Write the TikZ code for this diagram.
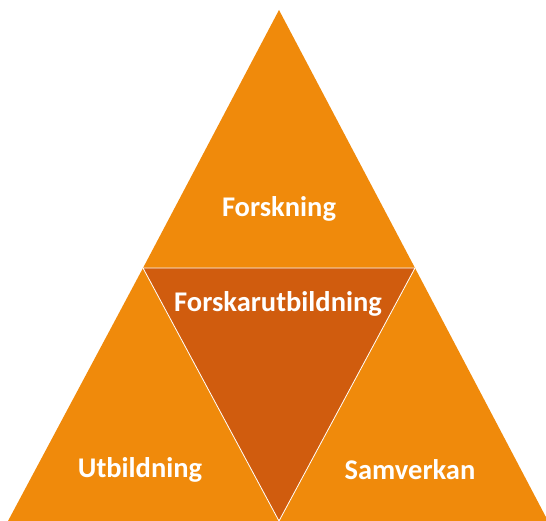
\documentclass[tikz,border=0pt]{standalone}
\usepackage{fontspec}
\setmainfont{Carlito}
\definecolor{tri}{RGB}{240,138,11}
\definecolor{mid}{RGB}{208,92,14}
\begin{document}
\begin{tikzpicture}[x=1pt,y=-1pt,
  lbl/.style={text=white,font=\bfseries\fontsize{28.5}{32}\selectfont,inner sep=0pt}]
\useasboundingbox (0,0) rectangle (546,521);
\coordinate (A) at (279,10);
\coordinate (L) at (143,268);
\coordinate (R) at (415,268);
\coordinate (BL) at (8,521);
\coordinate (BM) at (279,521);
\coordinate (BR) at (548,521);
\fill[tri] (A) -- (L) -- (R) -- cycle;
\fill[tri] (L) -- (BL) -- (BM) -- cycle;
\fill[tri] (R) -- (BM) -- (BR) -- cycle;
\fill[mid] (L) -- (R) -- (BM) -- cycle;
\draw[white,line width=0.8pt] (L) -- (R) -- (BM) -- cycle;
\node[lbl] (f) at (279,208.5) {Forskning};
\node[lbl] (fu) at (278,303.5) {Forskarutbildning};
\node[lbl] (u) at (140,469.5) {Utbildning};
\node[lbl] (s) at (410,469.5) {Samverkan};
\end{tikzpicture}
\end{document}
